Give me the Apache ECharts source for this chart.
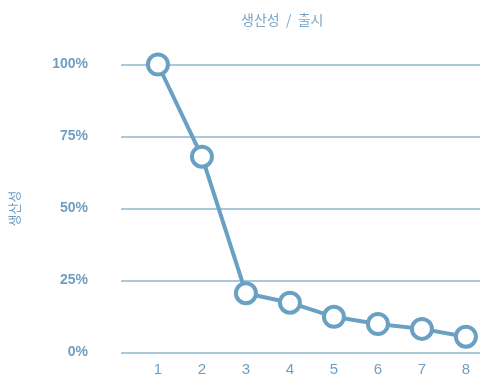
<!DOCTYPE html>
<html>
<head>
<meta charset="utf-8">
<script src="https://cdn.jsdelivr.net/npm/echarts@6/dist/echarts.min.js"></script>
<style>html,body{margin:0;padding:0;background:#fff;}#c{width:490px;height:388px;}</style>
</head>
<body>
<div id="c"></div>
<script>
const releases = [1, 2, 3, 4, 5, 6, 7, 8];
const productivity = [100, 68, 20.6, 17.3, 12.4, 9.9, 8.2, 5.5];
const yTicks = [0, 25, 50, 75, 100];
const titleText = '생산성  /  출시';
const yName = '생산성';

const chart = echarts.init(document.getElementById('c'));
const txt = '#6e9fc3';
chart.setOption({
  animation: false,
  title: {
    text: titleText, left: 236, top: 8,
    textStyle: {fontSize: 14, fontWeight: 'normal', color: '#7aa7c9', fontFamily: 'Noto Sans CJK KR'}
  },
  grid: {left: 120, right: 10, top: 64.5, bottom: 35.5},
  xAxis: {
    type: 'value', min: 0.16, max: 8.32,
    axisLine: {show: false}, axisTick: {show: false}, splitLine: {show: false},
    axisLabel: {customValues: releases, color: txt, fontSize: 15, margin: 10, fontFamily: 'Liberation Sans'}
  },
  yAxis: {
    type: 'value', min: 0, max: 100, interval: 25,
    name: yName, nameLocation: 'middle', nameRotate: 90, nameGap: 100,
    nameTextStyle: {color: txt, fontSize: 13, fontFamily: 'Noto Sans CJK KR'},
    axisLine: {show: false}, axisTick: {show: false},
    axisLabel: {color: txt, fontSize: 14, fontWeight: 'bold', margin: 33, fontFamily: 'Liberation Sans',
      formatter: v => yTicks.includes(v) ? v + '%' : ''},
    splitLine: {lineStyle: {color: '#a9c8dc', width: 2}}
  },
  series: [{
    type: 'line',
    data: releases.map((r, i) => [r, productivity[i]]),
    symbol: 'circle', symbolSize: 20,
    lineStyle: {color: '#6aa0c4', width: 4},
    itemStyle: {color: '#fff', borderColor: '#6aa0c4', borderWidth: 4}
  }]
});
</script>
</body>
</html>
